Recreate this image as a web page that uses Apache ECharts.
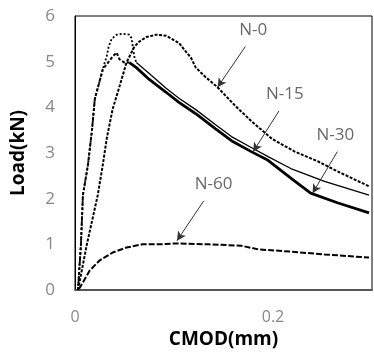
<!DOCTYPE html>
<html><head><meta charset="utf-8">
<script src="https://cdn.jsdelivr.net/npm/echarts@6/dist/echarts.min.js"></script>
<style>html,body{margin:0;padding:0;background:#fff}#c{width:374px;height:354px}</style>
</head><body><div id="c"></div>
<script>
const xTicks = [0, 0.2];
const yTicks = [0, 1, 2, 3, 4, 5, 6];
const seriesNames = ['N-0', 'N-15', 'N-30', 'N-60'];
const n0 = [[0.003,0],[0.012,1.0],[0.023,2.08],[0.028,2.73],[0.032,3.31],[0.038,3.96],[0.045,4.46],[0.052,4.98],[0.060,5.33],[0.065,5.44],[0.072,5.54],[0.082,5.59],[0.092,5.57],[0.105,5.41],[0.112,5.22],[0.117,5.09],[0.122,4.87],[0.132,4.66],[0.144,4.44],[0.162,4.03],[0.179,3.68],[0.199,3.31],[0.222,3.03],[0.245,2.82],[0.265,2.6],[0.297,2.27]];
const n15 = [[0.003,0],[0.006,1.0],[0.008,2.08],[0.013,2.73],[0.017,3.47],[0.020,4.18],[0.030,4.98],[0.032,5.11],[0.034,5.33],[0.037,5.50],[0.042,5.59],[0.048,5.61],[0.055,5.59],[0.057,5.52],[0.060,5.1],[0.062,4.98],[0.075,4.74],[0.092,4.42],[0.105,4.2],[0.122,3.95],[0.142,3.62],[0.158,3.36],[0.178,3.12],[0.195,2.92],[0.218,2.66],[0.252,2.38],[0.297,2.08]];
const n30 = [[0.003,0],[0.006,1.0],[0.008,2.08],[0.013,2.73],[0.017,3.47],[0.020,4.18],[0.028,4.83],[0.038,5.11],[0.042,5.2],[0.045,5.05],[0.050,4.98],[0.055,4.98],[0.062,4.87],[0.075,4.61],[0.092,4.33],[0.105,4.11],[0.122,3.86],[0.142,3.53],[0.158,3.27],[0.178,3.03],[0.195,2.84],[0.218,2.45],[0.238,2.12],[0.265,1.91],[0.297,1.69]];
const n60 = [[0.004,0.02],[0.015,0.43],[0.025,0.65],[0.038,0.82],[0.052,0.93],[0.068,1.0],[0.085,1.0],[0.102,1.02],[0.135,1.0],[0.168,0.97],[0.185,0.89],[0.218,0.84],[0.252,0.78],[0.297,0.71]];
// index where the pre-peak (broken) part of the trace ends
const n15Break = 15;
const n30Break = 11;
// annotation: [label, textX, textY, arrowStartX, arrowStartY, arrowEndX, arrowEndY]
const notes = [
  ['N-0', 0.180, 5.70, 0.172, 5.33, 0.144, 4.44],
  ['N-15', 0.212, 4.29, 0.206, 3.92, 0.180, 3.03],
  ['N-30', 0.263, 3.40, 0.265, 3.03, 0.240, 2.12],
  ['N-60', 0.140, 2.32, 0.130, 1.95, 0.103, 1.08]
];
const chart = echarts.init(document.getElementById('c'));
const font = '"Open Sans", "Noto Sans", sans-serif';
const mk = (name, data, width, type) => ({
  name, type: 'line', data, showSymbol: false, symbol: 'none', smooth: false,
  lineStyle: { color: '#000', width, type }, z: 3
});
const s = [
  mk(seriesNames[0], n0, 2, [3, 1.5]),
  mk(seriesNames[1], n15.slice(0, n15Break + 1), 1.8, [2, 2]),
  mk(seriesNames[1], n15.slice(n15Break), 1.3, 'solid'),
  mk(seriesNames[2], n30.slice(0, n30Break + 1), 2, [3, 2]),
  mk(seriesNames[2], n30.slice(n30Break), 2.8, 'solid'),
  mk(seriesNames[3], n60, 2, [6, 2])
];
s.push({
  type: 'scatter', data: notes.map(n => [n[1], n[2], n[0]]), symbolSize: 0,
  label: { show: true, formatter: p => p.data[2], position: 'inside', color: '#444', fontSize: 17, fontFamily: font },
  silent: true, z: 5
});
s.push({
  type: 'line', data: [], silent: true,
  markLine: {
    symbol: ['none', 'arrow'], symbolSize: [7, 9], silent: true, animation: false,
    label: { show: false },
    lineStyle: { color: '#333', width: 1, type: 'solid' },
    data: notes.map(n => [{ coord: [n[3], n[4]] }, { coord: [n[5], n[6]] }])
  }
});
chart.setOption({
  animation: false,
  grid: { left: 75, top: 16, right: 2, bottom: 61, show: true, borderColor: '#000', borderWidth: 1 },
  xAxis: {
    type: 'value', min: 0, max: 0.3, interval: 0.2,
    name: 'CMOD(mm)', nameLocation: 'middle', nameGap: 40,
    nameTextStyle: { fontSize: 19, fontWeight: 'bold', color: '#000', fontFamily: font },
    axisLine: { show: true, lineStyle: { color: '#555', width: 2 } },
    axisTick: { show: false }, splitLine: { show: false },
    axisLabel: { margin: 19, fontSize: 16, color: '#888', fontFamily: font, showMaxLabel: false,
      formatter: v => xTicks.some(t => Math.abs(t - v) < 1e-9) ? String(v) : '' }
  },
  yAxis: {
    type: 'value', min: 0, max: 6, interval: 1,
    name: 'Load(kN)', nameLocation: 'middle', nameGap: 47,
    nameTextStyle: { fontSize: 19, fontWeight: 'bold', color: '#000', fontFamily: font },
    axisLine: { show: true, lineStyle: { color: '#000', width: 1 } },
    axisTick: { show: false }, splitLine: { show: false },
    axisLabel: { margin: 20, fontSize: 17, color: '#888', fontFamily: font,
      formatter: v => yTicks.includes(v) ? String(v) : '' }
  },
  series: s
});
</script></body></html>
